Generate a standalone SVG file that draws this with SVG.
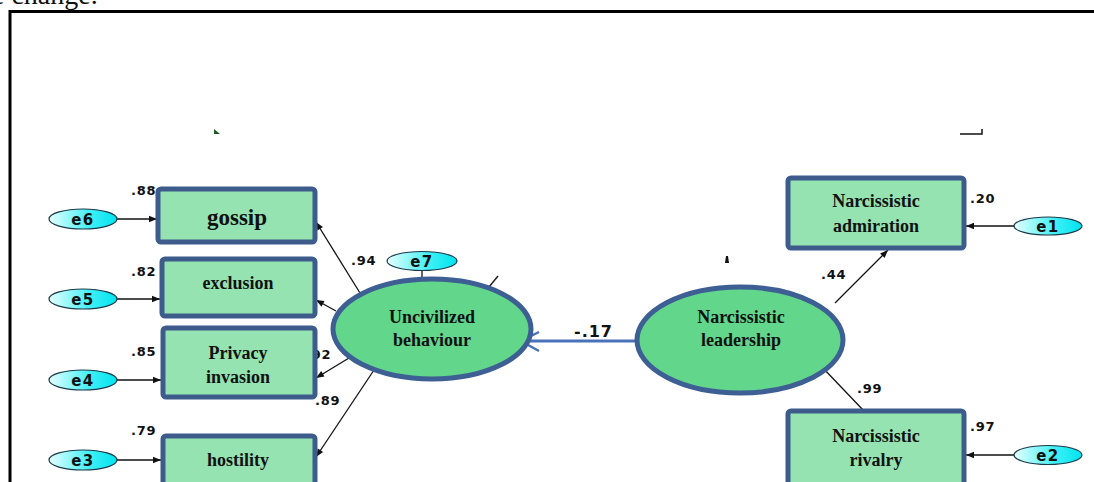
<svg xmlns="http://www.w3.org/2000/svg" width="1094" height="482" viewBox="0 0 1094 482">
  <style>
    .frame { fill: none; stroke: #000; stroke-width: 3; }
    .box { fill: #94e3b0; stroke: #3d5c8c; stroke-width: 5; }
    .latent { fill: #62d68a; stroke: #3d5f94; stroke-width: 5; }
    .err { fill: url(#errFill); stroke: #1a3a4a; stroke-width: 1.2; }
    .path { stroke: #111; stroke-width: 1.3; fill: none; }
    .btxt { font-family: "Liberation Serif", "Times New Roman", serif; font-weight: bold; font-size: 18px; fill: #111; text-anchor: middle; }
    .big { font-size: 23px; }
    .etxt { font-family: "DejaVu Sans", Verdana, sans-serif; font-weight: bold; font-size: 15px; fill: #111; text-anchor: middle; letter-spacing: 1.5px; }
    .num { font-family: "DejaVu Sans", Verdana, sans-serif; font-weight: bold; font-size: 13px; fill: #111; letter-spacing: 0.8px; }
    .coef { font-family: "DejaVu Sans", Verdana, sans-serif; font-weight: bold; font-size: 16px; fill: #111; letter-spacing: 1px; }
  </style>
  <defs>
    <linearGradient id="errFill" x1="0" y1="0" x2="1" y2="0">
      <stop offset="0" stop-color="#e6ffff"/>
      <stop offset="0.6" stop-color="#3ff0f5"/>
      <stop offset="1" stop-color="#00e4f0"/>
    </linearGradient>
    <marker id="arr" viewBox="0 0 10 10" refX="10" refY="5" markerWidth="11" markerHeight="8" markerUnits="userSpaceOnUse" orient="auto">
      <path d="M0,1 L10,5 L0,9 Z" fill="#111"/>
    </marker>
  </defs>

  <rect width="1094" height="482" fill="#fff"/>

  <!-- caption line cut by the page edge -->
  <text x="-8" y="4" font-family="Liberation Serif, serif" font-size="28" fill="#111">e change.</text>

  <!-- page frame -->
  <path class="frame" d="M10,482 V11.5 H1094"/>

  <!-- small stray marks -->
  <path d="M214,129 L220,134 L214,134 Z" fill="#1d5a2a"/>
  <path d="M960,134 H982 V129" fill="none" stroke="#111" stroke-width="1.5"/>
  <path d="M489,287 L498,276" stroke="#222" stroke-width="1.5"/>
  <path d="M726,256 L728,256 L729,263 L725,263 Z" fill="#111"/>

  <!-- path coefficients -->
  <g id="labels">
    <text class="num" x="131" y="195">.88</text>
    <text class="num" x="131" y="276">.82</text>
    <text class="num" x="131" y="356">.85</text>
    <text class="num" x="131" y="435">.79</text>
    <text class="num" x="351" y="265">.94</text>
    <text class="num" x="306" y="359">.92</text>
    <text class="num" x="315" y="405">.89</text>
    <text class="num" x="821" y="279">.44</text>
    <text class="num" x="857" y="393">.99</text>
    <text class="num" x="970" y="203">.20</text>
    <text class="num" x="970" y="431">.97</text>
    <text class="coef" x="574" y="337">-.17</text>
  </g>

  <!-- connectors -->
  <g id="connectors">
    <line class="path" x1="117" y1="219" x2="157" y2="219" marker-end="url(#arr)"/>
    <line class="path" x1="117" y1="299" x2="160" y2="299" marker-end="url(#arr)"/>
    <line class="path" x1="117" y1="380" x2="161" y2="380" marker-end="url(#arr)"/>
    <line class="path" x1="117" y1="460" x2="161" y2="460" marker-end="url(#arr)"/>
    <line class="path" x1="1014" y1="226" x2="966" y2="226" marker-end="url(#arr)"/>
    <line class="path" x1="1014" y1="455" x2="966" y2="455" marker-end="url(#arr)"/>
    <line class="path" x1="360" y1="293" x2="316" y2="222" marker-end="url(#arr)"/>
    <line class="path" x1="336" y1="311" x2="316" y2="300" marker-end="url(#arr)"/>
    <line class="path" x1="349" y1="358" x2="316" y2="378" marker-end="url(#arr)"/>
    <line class="path" x1="374" y1="370" x2="316" y2="457" marker-end="url(#arr)"/>
    <line class="path" x1="422" y1="270" x2="422" y2="279"/>
    <line class="path" x1="835" y1="303" x2="888" y2="250" marker-end="url(#arr)"/>
    <line class="path" x1="822" y1="367" x2="864" y2="411"/>
    <!-- structural path -->
    <line x1="637" y1="341" x2="521" y2="341" stroke="#4a72b8" stroke-width="3"/>
    <path d="M539,332 L521,341 L539,351" fill="none" stroke="#4a72b8" stroke-width="2.5"/>
  </g>

  <!-- observed indicators -->
  <g id="gossip">
    <rect class="box" x="158" y="189" width="157" height="53" rx="3"/>
    <text class="btxt big" x="237" y="225">gossip</text>
  </g>
  <g id="exclusion">
    <rect class="box" x="162" y="259" width="153" height="57" rx="3"/>
    <text class="btxt" x="238" y="289">exclusion</text>
  </g>
  <g id="privacy">
    <rect class="box" x="163" y="328" width="152" height="69" rx="3"/>
    <text class="btxt" x="238" y="359">Privacy</text>
    <text class="btxt" x="238" y="383">invasion</text>
  </g>
  <g id="hostility">
    <rect class="box" x="163" y="436" width="152" height="60" rx="3"/>
    <text class="btxt" x="238" y="466">hostility</text>
  </g>
  <g id="admiration">
    <rect class="box" x="788" y="178" width="176" height="70" rx="3"/>
    <text class="btxt" x="876" y="207">Narcissistic</text>
    <text class="btxt" x="876" y="232">admiration</text>
  </g>
  <g id="rivalry">
    <rect class="box" x="788" y="411" width="176" height="85" rx="3"/>
    <text class="btxt" x="876" y="442">Narcissistic</text>
    <text class="btxt" x="876" y="466">rivalry</text>
  </g>

  <!-- latent constructs -->
  <g id="uncivilized">
    <ellipse class="latent" cx="432" cy="329" rx="99" ry="50"/>
    <text class="btxt" x="432" y="323">Uncivilized</text>
    <text class="btxt" x="432" y="346">behaviour</text>
  </g>
  <g id="leadership">
    <ellipse class="latent" cx="740" cy="340" rx="103" ry="53"/>
    <text class="btxt" x="741" y="323">Narcissistic</text>
    <text class="btxt" x="741" y="346">leadership</text>
  </g>

  <!-- error terms -->
  <g id="e6"><ellipse class="err" cx="83" cy="219" rx="34" ry="10"/><text class="etxt" x="83" y="224.5">e6</text></g>
  <g id="e5"><ellipse class="err" cx="83" cy="299" rx="34" ry="10"/><text class="etxt" x="83" y="304.5">e5</text></g>
  <g id="e4"><ellipse class="err" cx="83" cy="380" rx="34" ry="10"/><text class="etxt" x="83" y="385.5">e4</text></g>
  <g id="e3"><ellipse class="err" cx="83" cy="460" rx="34" ry="10"/><text class="etxt" x="83" y="465.5">e3</text></g>
  <g id="e7"><ellipse class="err" cx="422" cy="261" rx="35" ry="9.5"/><text class="etxt" x="422" y="266.5">e7</text></g>
  <g id="e1"><ellipse class="err" cx="1048" cy="226" rx="34" ry="9"/><text class="etxt" x="1048" y="231.5">e1</text></g>
  <g id="e2"><ellipse class="err" cx="1048" cy="455" rx="34" ry="9.5"/><text class="etxt" x="1048" y="460.5">e2</text></g>
</svg>
